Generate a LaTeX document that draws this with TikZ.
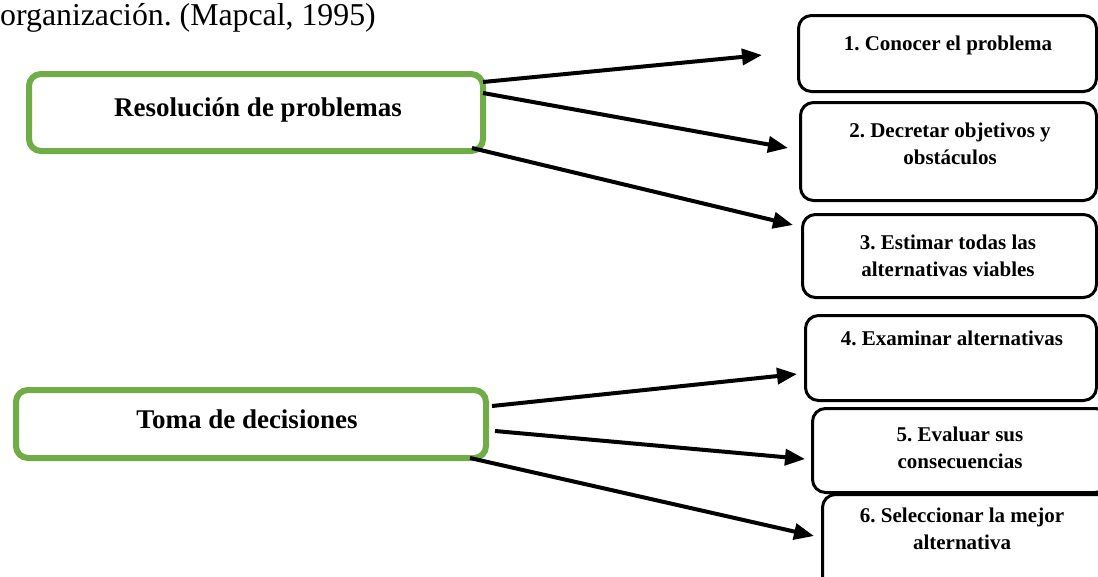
\documentclass[tikz,border=0pt]{standalone}
\usepackage{fontspec}
\setmainfont{Liberation Serif}
\usetikzlibrary{arrows.meta}
\definecolor{boxgreen}{RGB}{112,173,71}
\frenchspacing
\begin{document}
\frenchspacing
\begin{tikzpicture}[x=1pt,y=-1pt,
  greenbox/.style={draw=boxgreen, line width=6pt, rounded corners=12pt, fill=white, anchor=north west, inner sep=0pt},
  stepbox/.style={draw=black, line width=3pt, rounded corners=13pt, fill=white, anchor=north west, inner sep=0pt},
  maintext/.style={font=\fontsize{27}{32}\selectfont\bfseries, anchor=base, inner sep=0pt},
  steptext/.style={font=\fontsize{21}{27}\selectfont\bfseries, anchor=base, inner sep=0pt, align=center},
  conn/.style={line width=4pt, -{Triangle[length=20pt,width=16pt]}}]
\useasboundingbox (0,0) rectangle (1098,576);
\clip (0,0) rectangle (1098,576);
\fill[white] (0,0) rectangle (1098,576);

% title fragment
\node[font=\fontsize{31.8}{38}\selectfont, anchor=base west, inner sep=0pt] (title) at (0,25) {organización. (Mapcal, 1995)};

% left boxes
\node[greenbox, minimum width=454pt, minimum height=77pt] (res) at (26,71) {};
\node[maintext] (restext) at (258,116) {Resolución de problemas};
\node[greenbox, minimum width=470pt, minimum height=68pt] (toma) at (13,387) {};
\node[maintext] (tomatext) at (247,428) {Toma de decisiones};

% right boxes (text anchor = baseline of the last line)
\node[stepbox, minimum width=298pt, minimum height=76pt] (b1) at (797,14) {};
\node[steptext] (t1) at (948,50) {1. Conocer el problema};
\node[stepbox, minimum width=296pt, minimum height=98pt] (b2) at (799,101) {};
\node[steptext] (t2) at (950,164) {2. Decretar objetivos y\\obstáculos};
\node[stepbox, minimum width=294pt, minimum height=83pt] (b3) at (801,213) {};
\node[steptext] (t3) at (948,276) {3. Estimar todas las\\alternativas viables};
\node[stepbox, minimum width=291pt, minimum height=85pt] (b4) at (804,314) {};
\node[steptext] (t4) at (952,345) {4. Examinar alternativas};
\node[stepbox, minimum width=296pt, minimum height=84pt] (b5) at (811,407) {};
\node[steptext] (t5) at (960,468) {5. Evaluar sus\\consecuencias};
\node[stepbox, minimum width=290pt, minimum height=110pt] (b6) at (821,493) {};
\node[steptext] (t6) at (962,549) {6. Seleccionar la mejor\\alternativa};

% connector end points
\coordinate (a1s) at (483,82);  \coordinate (a1e) at (762,55);
\coordinate (a2s) at (483,93);  \coordinate (a2e) at (788,148);
\coordinate (a3s) at (472,148); \coordinate (a3e) at (793,225);
\coordinate (a4s) at (492,406); \coordinate (a4e) at (797,374);
\coordinate (a5s) at (495,431); \coordinate (a5e) at (805,459);
\coordinate (a6s) at (470,458); \coordinate (a6e) at (814,536);

\draw[conn] (a1s) -- (a1e);
\draw[conn] (a2s) -- (a2e);
\draw[conn] (a3s) -- (a3e);
\draw[conn] (a4s) -- (a4e);
\draw[conn] (a5s) -- (a5e);
\draw[conn] (a6s) -- (a6e);
\end{tikzpicture}
\end{document}
